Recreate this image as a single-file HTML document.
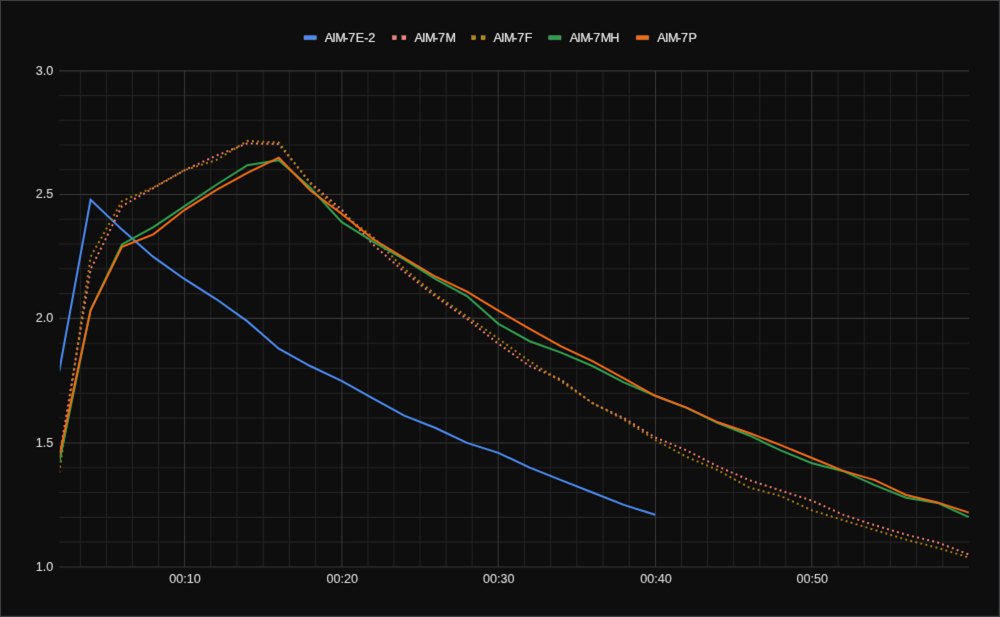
<!DOCTYPE html><html><head><meta charset="utf-8"><title>Chart</title><style>html,body{margin:0;padding:0;background:#0e0e0e;}body{width:1000px;height:617px;overflow:hidden;font-family:"Liberation Sans",sans-serif;}</style></head><body><svg width="1000" height="617" viewBox="0 0 1000 617" style="display:block">
<rect x="0" y="0" width="1000" height="617" fill="#3c4043"/>
<rect x="1.05" y="1.05" width="997.75" height="614.75" fill="#0e0e0e"/>
<defs><clipPath id="c"><rect x="59.8" y="60" width="909.3" height="512"/></clipPath><filter id="b" x="2" y="2" width="996" height="613" filterUnits="userSpaceOnUse" color-interpolation-filters="sRGB"><feConvolveMatrix order="5" kernelMatrix="0.00040 -0.00220 -0.01640 -0.00220 0.00040 -0.00220 0.01210 0.09020 0.01210 -0.00220 -0.01640 0.09020 0.67240 0.09020 -0.01640 -0.00220 0.01210 0.09020 0.01210 -0.00220 0.00040 -0.00220 -0.01640 -0.00220 0.00040" edgeMode="duplicate" preserveAlpha="true"/></filter></defs>
<g filter="url(#b)"><rect x="2" y="2" width="996" height="613" fill="#0e0e0e"/>
<g stroke-width="1.05"><line x1="59.3" x2="969.0" y1="95.59" y2="95.59" stroke="#232323"/><line x1="59.3" x2="969.0" y1="120.32" y2="120.32" stroke="#232323"/><line x1="59.3" x2="969.0" y1="145.06" y2="145.06" stroke="#232323"/><line x1="59.3" x2="969.0" y1="169.79" y2="169.79" stroke="#232323"/><line x1="59.3" x2="969.0" y1="219.30" y2="219.30" stroke="#232323"/><line x1="59.3" x2="969.0" y1="244.07" y2="244.07" stroke="#232323"/><line x1="59.3" x2="969.0" y1="268.83" y2="268.83" stroke="#232323"/><line x1="59.3" x2="969.0" y1="293.60" y2="293.60" stroke="#232323"/><line x1="59.3" x2="969.0" y1="343.30" y2="343.30" stroke="#232323"/><line x1="59.3" x2="969.0" y1="368.22" y2="368.22" stroke="#232323"/><line x1="59.3" x2="969.0" y1="393.15" y2="393.15" stroke="#232323"/><line x1="59.3" x2="969.0" y1="418.07" y2="418.07" stroke="#232323"/><line x1="59.3" x2="969.0" y1="467.78" y2="467.78" stroke="#232323"/><line x1="59.3" x2="969.0" y1="492.57" y2="492.57" stroke="#232323"/><line x1="59.3" x2="969.0" y1="517.35" y2="517.35" stroke="#232323"/><line x1="59.3" x2="969.0" y1="542.14" y2="542.14" stroke="#232323"/><line x1="158.53" x2="158.53" y1="70.9" y2="566.9" stroke="#232323"/><line x1="132.48" x2="132.48" y1="70.9" y2="566.9" stroke="#232323"/><line x1="106.43" x2="106.43" y1="70.9" y2="566.9" stroke="#232323"/><line x1="80.43" x2="80.43" y1="70.9" y2="566.9" stroke="#232323"/><line x1="210.80" x2="210.80" y1="70.9" y2="566.9" stroke="#232323"/><line x1="237.02" x2="237.02" y1="70.9" y2="566.9" stroke="#232323"/><line x1="263.24" x2="263.24" y1="70.9" y2="566.9" stroke="#232323"/><line x1="289.46" x2="289.46" y1="70.9" y2="566.9" stroke="#232323"/><line x1="315.68" x2="315.68" y1="70.9" y2="566.9" stroke="#232323"/><line x1="367.95" x2="367.95" y1="70.9" y2="566.9" stroke="#232323"/><line x1="394.00" x2="394.00" y1="70.9" y2="566.9" stroke="#232323"/><line x1="420.05" x2="420.05" y1="70.9" y2="566.9" stroke="#232323"/><line x1="446.10" x2="446.10" y1="70.9" y2="566.9" stroke="#232323"/><line x1="472.15" x2="472.15" y1="70.9" y2="566.9" stroke="#232323"/><line x1="524.41" x2="524.41" y1="70.9" y2="566.9" stroke="#232323"/><line x1="550.63" x2="550.63" y1="70.9" y2="566.9" stroke="#232323"/><line x1="576.84" x2="576.84" y1="70.9" y2="566.9" stroke="#232323"/><line x1="603.05" x2="603.05" y1="70.9" y2="566.9" stroke="#232323"/><line x1="629.27" x2="629.27" y1="70.9" y2="566.9" stroke="#232323"/><line x1="681.54" x2="681.54" y1="70.9" y2="566.9" stroke="#232323"/><line x1="707.60" x2="707.60" y1="70.9" y2="566.9" stroke="#232323"/><line x1="733.66" x2="733.66" y1="70.9" y2="566.9" stroke="#232323"/><line x1="759.72" x2="759.72" y1="70.9" y2="566.9" stroke="#232323"/><line x1="785.78" x2="785.78" y1="70.9" y2="566.9" stroke="#232323"/><line x1="838.03" x2="838.03" y1="70.9" y2="566.9" stroke="#232323"/><line x1="864.23" x2="864.23" y1="70.9" y2="566.9" stroke="#232323"/><line x1="890.42" x2="890.42" y1="70.9" y2="566.9" stroke="#232323"/><line x1="916.61" x2="916.61" y1="70.9" y2="566.9" stroke="#232323"/><line x1="942.81" x2="942.81" y1="70.9" y2="566.9" stroke="#232323"/><line x1="59.3" x2="969.0" y1="70.85" y2="70.85" stroke="#363636"/><line x1="59.3" x2="969.0" y1="194.53" y2="194.53" stroke="#363636"/><line x1="59.3" x2="969.0" y1="318.37" y2="318.37" stroke="#363636"/><line x1="59.3" x2="969.0" y1="443.00" y2="443.00" stroke="#363636"/><line x1="59.3" x2="969.0" y1="566.92" y2="566.92" stroke="#363636"/><line x1="184.58" x2="184.58" y1="70.9" y2="566.9" stroke="#363636"/><line x1="341.90" x2="341.90" y1="70.9" y2="566.9" stroke="#363636"/><line x1="498.20" x2="498.20" y1="70.9" y2="566.9" stroke="#363636"/><line x1="655.48" x2="655.48" y1="70.9" y2="566.9" stroke="#363636"/><line x1="811.84" x2="811.84" y1="70.9" y2="566.9" stroke="#363636"/></g>
<g clip-path="url(#c)" fill="none" stroke-width="2.0" stroke-linejoin="miter">
<polyline points="59.24,370.98 90.60,199.86 121.97,229.62 153.33,256.90 184.70,279.22 216.07,299.06 247.43,321.38 278.80,348.66 310.16,366.02 341.53,380.90 372.90,398.26 404.26,415.62 435.63,428.02 466.99,442.90 498.36,452.82 529.73,467.70 561.09,480.10 592.46,492.50 623.82,504.90 655.19,514.82" stroke="#4a89ef"/>
<polyline points="59.24,457.78 90.60,269.30 121.97,206.06 153.33,188.20 184.70,170.10 216.07,155.72 247.43,143.32 278.80,144.06 310.16,182.50 341.53,209.53 372.90,244.50 404.26,271.78 435.63,296.58 466.99,318.90 498.36,343.70 529.73,366.02 561.09,379.66 592.46,403.22 623.82,418.10 655.19,437.44 686.56,450.34 717.92,466.46 749.29,480.10 780.65,490.52 812.02,500.68 843.39,514.82 874.75,525.24 906.12,534.66 937.48,542.35 968.85,554.50" stroke="#f87c72" stroke-width="1.95" stroke-dasharray="1.95 3.25"/>
<polyline points="59.24,472.66 90.60,256.90 121.97,201.10 153.33,187.46 184.70,170.10 216.07,160.18 247.43,140.84 278.80,142.57 310.16,183.24 341.53,213.25 372.90,236.81 404.26,268.80 435.63,294.60 466.99,316.42 498.36,338.74 529.73,361.31 561.09,381.40 592.46,402.97 623.82,419.59 655.19,439.92 686.56,456.79 717.92,470.18 749.29,487.54 780.65,495.97 812.02,510.36 843.39,520.28 874.75,529.95 906.12,539.62 937.48,547.80 968.85,557.48" stroke="#b0800a" stroke-width="1.95" stroke-dasharray="1.95 3.25"/>
<polyline points="59.24,462.74 90.60,309.97 121.97,244.50 153.33,227.14 184.70,206.06 216.07,184.98 247.43,165.14 278.80,160.18 310.16,187.46 341.53,221.93 372.90,241.52 404.26,259.38 435.63,279.22 466.99,296.08 498.36,323.86 529.73,341.22 561.09,352.63 592.46,366.02 623.82,382.39 655.19,395.78 686.56,407.93 717.92,423.06 749.29,435.46 780.65,450.34 812.02,463.24 843.39,471.17 874.75,485.06 906.12,497.71 937.48,502.92 968.85,517.05" stroke="#2f9e4c"/>
<polyline points="59.24,456.54 90.60,310.22 121.97,246.73 153.33,234.33 184.70,209.78 216.07,190.19 247.43,172.83 278.80,157.70 310.16,190.19 341.53,213.75 372.90,239.04 404.26,258.14 435.63,276.74 466.99,291.62 498.36,310.72 529.73,328.82 561.09,346.43 592.46,361.06 623.82,378.42 655.19,395.78 686.56,407.68 717.92,422.32 749.29,432.98 780.65,445.13 812.02,458.03 843.39,470.92 874.75,480.10 906.12,494.98 937.48,502.42 968.85,512.59" stroke="#f06a10"/>
</g>
<g font-family="Liberation Sans, Arial, sans-serif" font-size="12.6" fill="#d8d8d8" stroke="#d8d8d8" stroke-width="0.1">
<text x="53.2" y="74.5" text-anchor="end">3.0</text>
<text x="53.2" y="198.2" text-anchor="end">2.5</text>
<text x="53.2" y="322.1" text-anchor="end">2.0</text>
<text x="53.2" y="446.7" text-anchor="end">1.5</text>
<text x="53.2" y="570.6" text-anchor="end">1.0</text>
<text x="185.03" y="583.3" text-anchor="middle">00:10</text>
<text x="342.35" y="583.3" text-anchor="middle">00:20</text>
<text x="498.65" y="583.3" text-anchor="middle">00:30</text>
<text x="655.93" y="583.3" text-anchor="middle">00:40</text>
<text x="812.29" y="583.3" text-anchor="middle">00:50</text>
</g>
<g font-family="Liberation Sans, Arial, sans-serif" font-size="12.6" fill="#e6e6e6" stroke="#e6e6e6" stroke-width="0.18">
<rect x="303.9" y="35.55" width="12.6" height="4.2" rx="0.6" fill="#4a89ef"/>
<text x="324.70 332.30 335.30 344.30 348.34 355.83 364.21 368.20" y="41.6">AIM-7E-2</text>
<rect x="392.3" y="35.55" width="4.2" height="4.2" fill="#f87c72"/><rect x="401.8" y="35.55" width="4.2" height="4.2" fill="#f87c72"/>
<text x="414.40 422.00 425.00 434.00 438.04 445.53" y="41.6">AIM-7M</text>
<rect x="471.5" y="35.55" width="4.2" height="4.2" fill="#b8860b"/><rect x="481.0" y="35.55" width="4.2" height="4.2" fill="#b8860b"/>
<text x="493.50 501.10 504.10 513.10 517.14 524.63" y="41.6">AIM-7F</text>
<rect x="548.5" y="35.55" width="12.6" height="4.2" rx="0.6" fill="#2f9e4c"/>
<text x="569.70 577.30 580.30 589.30 593.34 600.83 610.15" y="41.6">AIM-7MH</text>
<rect x="636.2" y="35.55" width="12.6" height="4.2" rx="0.6" fill="#f06a10"/>
<text x="657.30 664.90 667.90 676.90 680.94 688.43" y="41.6">AIM-7P</text>
</g>
</g></svg></body></html>
